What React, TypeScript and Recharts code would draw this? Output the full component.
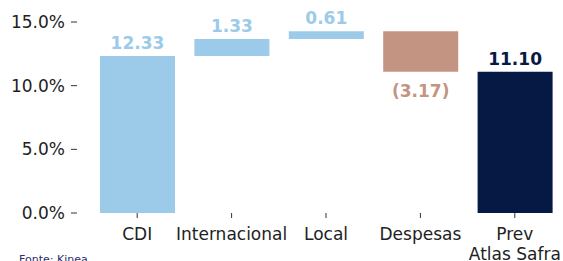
import React from "react";
import { BarChart, Bar, XAxis, YAxis, Cell, LabelList } from "recharts";

const categories = ["CDI", "Internacional", "Local", "Despesas", "Prev\nAtlas Safra"];
const values = [12.33, 1.33, 0.61, -3.17, 11.1];
const isTotal = [false, false, false, false, true];
const yTicks = [0, 5, 10, 15];

const LIGHT = "#9BCBE8";
const BROWN = "#C49483";
const NAVY = "#051944";

const colors = values.map((v, i) => (isTotal[i] ? NAVY : v < 0 ? BROWN : LIGHT));

let running = 0;
const data = categories.map((c, i) => {
  const v = values[i];
  let range: [number, number];
  if (isTotal[i]) {
    range = [0, v];
    running = v;
  } else {
    const start = running;
    const end = running + v;
    range = [Math.min(start, end), Math.max(start, end)];
    running = end;
  }
  return { name: c, range, value: v };
});

const fmt = (v: number) => (v < 0 ? `(${Math.abs(v).toFixed(2)})` : v.toFixed(2));

const FONT = "DejaVu Sans";

const XTick = (props: any) => {
  const { x, y, payload } = props;
  const lines = String(payload.value).split("\n");
  return (
    <text x={x} y={y + 20} textAnchor="middle" fill="#222" fontSize={17} fontFamily={FONT}>
      {lines.map((l, i) => (
        <tspan key={i} x={x} dy={i === 0 ? 0 : 20}>
          {l}
        </tspan>
      ))}
    </text>
  );
};

const BarLabel = (props: any) => {
  const { x, y, width, height, index } = props;
  const v = values[index];
  const cx = x + width / 2;
  const top = Math.min(y, y + height);
  const bottom = Math.max(y, y + height);
  const ty = v < 0 ? bottom + 25 : top - 7;
  return (
    <text
      x={cx}
      y={ty}
      textAnchor="middle"
      fill={colors[index]}
      fontSize={17}
      fontWeight="bold"
      fontFamily={FONT}
    >
      {fmt(v)}
    </text>
  );
};

export default function App() {
  return (
    <div
      style={{
        position: "absolute",
        left: 0,
        top: 0,
        width: 563,
        height: 261,
        overflow: "hidden",
        background: "#fff",
      }}
    >
      <BarChart
        width={563}
        height={261}
        data={data}
        margin={{ top: 22, right: 1, left: 0, bottom: 0 }}
      >
        <XAxis
          dataKey="name"
          height={48}
          axisLine={false}
          tickLine={{ stroke: "#333" }}
          tickSize={5}
          padding={{ left: 13, right: 0 }}
          interval={0}
          tick={<XTick />}
        />
        <YAxis
          width={77}
          domain={[0, 15]}
          ticks={yTicks}
          axisLine={false}
          tickLine={{ stroke: "#333" }}
          tickSize={6}
          tickMargin={6}
          tickFormatter={(v: number) => `${v.toFixed(1)}%`}
          tick={{ fontSize: 17, fontFamily: FONT, fill: "#222" }}
        />
        <Bar dataKey="range" barSize={75} isAnimationActive={false}>
          {data.map((d, i) => (
            <Cell key={i} fill={colors[i]} />
          ))}
          <LabelList dataKey="range" content={<BarLabel />} />
        </Bar>
      </BarChart>
      <div
        style={{
          position: "absolute",
          left: 19,
          top: 253,
          fontFamily: FONT,
          fontSize: 11,
          color: "#2F2C70",
          whiteSpace: "nowrap",
          lineHeight: "13px",
        }}
      >
        Fonte: Kinea
      </div>
    </div>
  );
}
